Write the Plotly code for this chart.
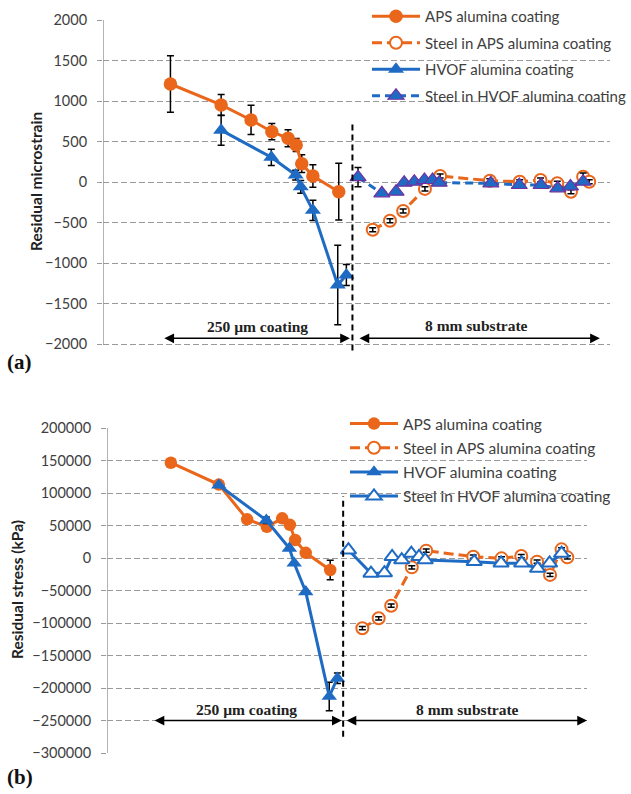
import plotly.graph_objects as go

# ---------------- data (x = position across the section, % of chart width) ----------------
aps_x = [13.3, 23.3, 29.2, 33.3, 36.5, 38.1, 39.2, 41.4, 46.5]
hvof_x = [23.3, 33.2, 38.0, 39.0, 41.4, 46.3, 48.0]
steel_aps_x = [53.2, 56.6, 59.2, 63.5, 66.5, 76.3, 82.2, 86.3, 89.6, 92.3, 94.7, 95.9]
steel_hvof_x = [50.3, 55.0, 57.8, 59.4, 61.4, 63.4, 65.0, 66.3, 76.5, 82.1, 86.4, 89.7, 92.2, 94.7]

# (a) residual microstrain
aps_strain = [1210, 951, 766, 621, 540, 457, 226, 74, -120]
aps_strain_err = [350, 130, 180, 100, 105, 80, 110, 140, 350]
hvof_strain = [640, 305, 86, -60, -350, -1272, -1148]
hvof_strain_err = [185, 100, 60, 80, 125, 490, 130]
steel_aps_strain = [-590, -478, -358, -85, 74, 16, 4, 25, -16, -120, 66, 4]
steel_aps_strain_err = [25, 25, 25, 25, 25, 25, 25, 25, 25, 25, 45, 25]
steel_hvof_strain = [60, -140, -120, -8, 4, 25, 25, -8, -16, -37, -37, -78, -55, 4]
steel_hvof_strain_err = [120, 20, 20, 20, 20, 20, 20, 20, 20, 20, 20, 20, 20, 20]

# (b) residual stress (kPa)
aps_stress = [146600, 113000, 59500, 48000, 61000, 51000, 27700, 8000, -18500]
aps_stress_err = [0, 0, 0, 0, 0, 0, 0, 0, 15000]
hvof_stress = [112000, 58000, 15000, -8000, -52000, -213000, -185000]
hvof_stress_err = [0, 5000, 0, 0, 0, 22000, 8000]
steel_aps_stress = [-108000, -92800, -73400, -14400, 11300, 2000, -500, 3000, -5600, -26000, 13300, 1000]
steel_aps_stress_err = [2500, 2500, 2500, 2500, 2500, 2500, 2500, 2500, 2500, 2500, 2500, 2500]
steel_hvof_stress = [12300, -23600, -23000, 2000, -3000, 7000, 2000, -3000, -5600, -8000, -8000, -16000, -8000, 7000]

strain_ticks = [-2000, -1500, -1000, -500, 0, 500, 1000, 1500, 2000]
stress_ticks = [-300000, -250000, -200000, -150000, -100000, -50000, 0, 50000, 100000, 150000, 200000]

names = ["APS alumina coating", "Steel in APS alumina coating",
         "HVOF alumina coating", "Steel in HVOF alumina coating"]

ORANGE = "#E9661A"
BLUE = "#1F6BC4"
PURPLE = "#7030A0"
GRID = "#9a9a9a"
TXT = "#404040"

fig = go.Figure()


def err(arr, vis=True):
    return dict(type="data", array=arr, visible=vis, color="black", thickness=1.5, width=3.5)


# ---------------- panel (a) ----------------
fig.add_trace(go.Scatter(x=aps_x, y=aps_strain, name=names[0], mode="lines+markers",
                         line=dict(color=ORANGE, width=3),
                         marker=dict(symbol="circle", size=13.5, color=ORANGE),
                         error_y=err(aps_strain_err), legend="legend", legendgroup="a1",
                         xaxis="x", yaxis="y"))
fig.add_trace(go.Scatter(x=steel_aps_x, y=steel_aps_strain, name=names[1], mode="lines+markers",
                         line=dict(color=ORANGE, width=3, dash="10px,5px"),
                         marker=dict(symbol="circle", size=12, color="white",
                                     line=dict(color=ORANGE, width=2)),
                         legend="legend", legendgroup="a2", xaxis="x", yaxis="y"))
fig.add_trace(go.Scatter(x=steel_aps_x, y=steel_aps_strain, mode="markers", showlegend=False,
                         marker=dict(size=1, color="rgba(0,0,0,0)"),
                         error_y=err(steel_aps_strain_err), hoverinfo="skip",
                         xaxis="x", yaxis="y"))
fig.add_trace(go.Scatter(x=hvof_x, y=hvof_strain, name=names[2], mode="lines+markers",
                         line=dict(color=BLUE, width=3),
                         marker=dict(symbol="triangle-up", size=14, color=BLUE),
                         error_y=err(hvof_strain_err), legend="legend", legendgroup="a3",
                         xaxis="x", yaxis="y"))
fig.add_trace(go.Scatter(x=steel_hvof_x, y=steel_hvof_strain, name=names[3], mode="lines+markers",
                         line=dict(color=BLUE, width=3, dash="8px,5px"),
                         marker=dict(symbol="triangle-up", size=14, color=BLUE,
                                     line=dict(color=PURPLE, width=1.2)),
                         error_y=err(steel_hvof_strain_err), legend="legend", legendgroup="a4",
                         xaxis="x", yaxis="y"))

# ---------------- panel (b) ----------------
fig.add_trace(go.Scatter(x=aps_x, y=aps_stress, name=names[0], mode="lines+markers",
                         line=dict(color=ORANGE, width=3),
                         marker=dict(symbol="circle", size=12.5, color=ORANGE),
                         error_y=err(aps_stress_err), legend="legend2", legendgroup="b1",
                         xaxis="x2", yaxis="y2"))
fig.add_trace(go.Scatter(x=steel_aps_x, y=steel_aps_stress, name=names[1], mode="lines+markers",
                         line=dict(color=ORANGE, width=3, dash="10px,5px"),
                         marker=dict(symbol="circle", size=12, color="white",
                                     line=dict(color=ORANGE, width=2)),
                         legend="legend2", legendgroup="b2", xaxis="x2", yaxis="y2"))
fig.add_trace(go.Scatter(x=steel_aps_x, y=steel_aps_stress, mode="markers", showlegend=False,
                         marker=dict(size=1, color="rgba(0,0,0,0)"),
                         error_y=err(steel_aps_stress_err), hoverinfo="skip",
                         xaxis="x2", yaxis="y2"))
fig.add_trace(go.Scatter(x=hvof_x, y=hvof_stress, name=names[2], mode="lines+markers",
                         line=dict(color=BLUE, width=3),
                         marker=dict(symbol="triangle-up", size=13.5, color=BLUE),
                         error_y=err(hvof_stress_err), legend="legend2", legendgroup="b3",
                         xaxis="x2", yaxis="y2"))
fig.add_trace(go.Scatter(x=steel_hvof_x, y=steel_hvof_stress, name=names[3], mode="lines+markers",
                         line=dict(color=BLUE, width=3),
                         marker=dict(symbol="triangle-up", size=13.5, color="white",
                                     line=dict(color=BLUE, width=2)),
                         legend="legend2", legendgroup="b4", xaxis="x2", yaxis="y2"))

W, H = 631, 794


def py(px):
    return 1 - px / H


yax_common = dict(showgrid=True, gridcolor=GRID, griddash="6px,3px", gridwidth=1.3,
                  zeroline=False, showline=False, ticks="outside", ticklen=5,
                  tickcolor=GRID, tickwidth=1.3, tickformat="d", tickmode="array",
                  ticklabelstandoff=7,
                  tickfont=dict(family="Lato", size=14.5, color=TXT))
xax_common = dict(range=[0, 100], visible=False, showgrid=False, zeroline=False)

fig.update_layout(
    width=W, height=H, margin=dict(l=0, r=0, t=0, b=0, autoexpand=False),
    paper_bgcolor="white", plot_bgcolor="white",
    xaxis=dict(domain=[103 / W, 610 / W], anchor="y", **xax_common),
    yaxis=dict(domain=[py(352.1), py(20)], anchor="x", range=[-2100, 2000],
               tickvals=strain_ticks, **yax_common),
    xaxis2=dict(domain=[107 / W, 587 / W], anchor="y2", **xax_common),
    yaxis2=dict(domain=[py(753), py(428)], anchor="x2", range=[-300000, 200000],
                tickvals=stress_ticks, **yax_common),
    legend=dict(x=1, y=1 + 4 / H, xanchor="right", yanchor="top",
                xref="container", yref="container",
                bgcolor="rgba(0,0,0,0)", tracegroupgap=4, itemwidth=48,
                font=dict(family="Lato", size=15, color=TXT)),
    legend2=dict(x=345 / W, y=py(407), xanchor="left", yanchor="top",
                 xref="container", yref="container",
                 bgcolor="rgba(0,0,0,0)", tracegroupgap=1, itemwidth=48,
                 font=dict(family="Lato", size=15.5, color=TXT)),
    showlegend=True,
)

# axis lines (left) drawn as shapes
fig.add_shape(type="line", xref="x", yref="y", x0=0, x1=0, y0=-2000, y1=2000,
              line=dict(color=GRID, width=1.5))
fig.add_shape(type="line", xref="x2", yref="y2", x0=0, x1=0, y0=-300000, y1=200000,
              line=dict(color=GRID, width=1.5))

# coating / substrate divider
fig.add_shape(type="line", xref="x", yref="y", x0=49.2, x1=49.2, y0=-2080, y1=745,
              line=dict(color="black", width=2, dash="6px,4px"))
fig.add_shape(type="line", xref="x2", yref="y2", x0=49.2, x1=49.2, y0=-275000, y1=95000,
              line=dict(color="black", width=2, dash="6px,4px"))


def arrow(xref, yref, x0, x1, y):
    fig.add_annotation(xref=xref, yref=yref, axref=xref, ayref=yref,
                       x=x1, y=y, ax=x0, ay=y, text="", showarrow=True,
                       arrowhead=2, arrowside="end+start", arrowsize=1.3,
                       arrowwidth=1.5, arrowcolor="black")


def label(xref, yref, x, y, txt):
    fig.add_annotation(xref=xref, yref=yref, x=x, y=y, text=txt, showarrow=False,
                       font=dict(family="Liberation Serif", size=15.5, color="#222"))


arrow("x", "y", 11.8, 48.7, -1930)
arrow("x", "y", 50.3, 98.0, -1930)
label("x", "y", 30.4, -1787, "<b>250 µm coating</b>")
label("x", "y", 73.7, -1766, "<b>8 mm substrate</b>")

arrow("x2", "y2", 9.6, 48.9, -250000)
arrow("x2", "y2", 49.6, 100.0, -250000)
label("x2", "y2", 29.1, -233800, "<b>250 µm coating</b>")
label("x2", "y2", 75.2, -233800, "<b>8 mm substrate</b>")

# y-axis titles
fig.add_annotation(xref="paper", yref="paper", x=36 / W, y=py(182), text="<b>Residual microstrain</b>",
                   textangle=-90, showarrow=False, xanchor="center", yanchor="middle",
                   font=dict(family="Lato", size=15.5, color="#222"))
fig.add_annotation(xref="paper", yref="paper", x=17 / W, y=py(590), text="<b>Residual stress (kPa)</b>",
                   textangle=-90, showarrow=False, xanchor="center", yanchor="middle",
                   font=dict(family="Lato", size=15.5, color="#222"))

# panel labels
fig.add_annotation(xref="paper", yref="paper", x=5 / W, y=py(362), text="<b>(a)</b>",
                   showarrow=False, xanchor="left", yanchor="middle",
                   font=dict(family="Liberation Serif", size=21, color="#111"))
fig.add_annotation(xref="paper", yref="paper", x=5 / W, y=py(777), text="<b>(b)</b>",
                   showarrow=False, xanchor="left", yanchor="middle",
                   font=dict(family="Liberation Serif", size=21, color="#111"))

fig.write_html("out.html")
